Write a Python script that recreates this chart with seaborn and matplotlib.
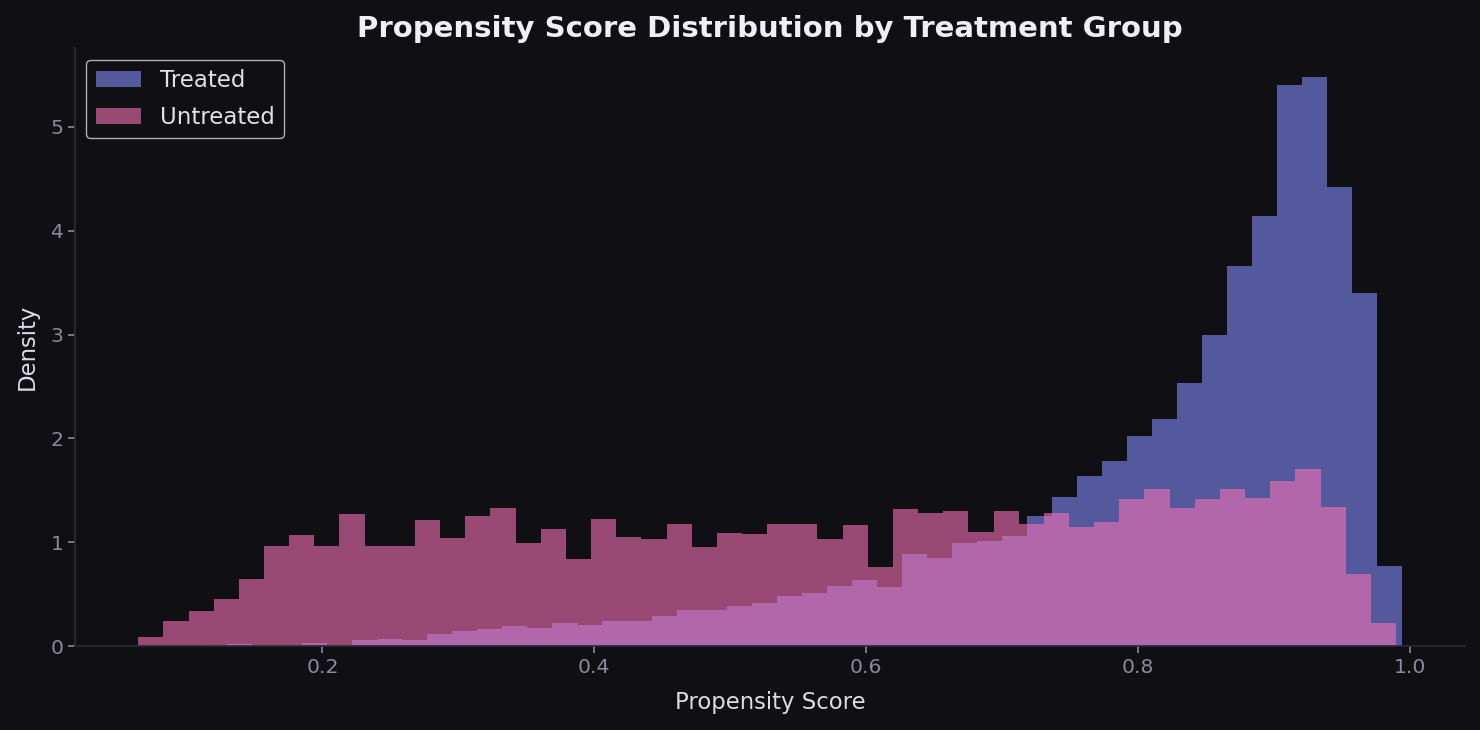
import numpy as np
import pandas as pd
import matplotlib
matplotlib.use("Agg")
import matplotlib.pyplot as plt
import seaborn as sns

# density per bin
treated_lo, treated_hi, treated_nbins = 0.1117, 0.9941, 48
treated_density = [0.008, 0.019, 0.008, 0.008, 0.030, 0.008, 0.057, 0.068, 0.057, 0.114,
                   0.144, 0.163, 0.194, 0.171, 0.225, 0.202, 0.240, 0.240, 0.288, 0.345,
                   0.345, 0.384, 0.413, 0.480, 0.509, 0.576, 0.633, 0.566, 0.883, 0.845,
                   0.988, 1.008, 1.056, 1.257, 1.432, 1.635, 1.779, 2.018, 2.185, 2.531,
                   2.993, 3.661, 4.140, 5.406, 5.483, 4.421, 3.399, 0.775]

untreated_lo, untreated_hi, untreated_nbins = 0.0646, 0.9897, 50
untreated_density = [0.091, 0.239, 0.334, 0.452, 0.645, 0.968, 1.066, 0.960, 1.275, 0.968,
                     0.968, 1.218, 1.036, 1.249, 1.332, 0.991, 1.131, 0.835, 1.228, 1.046,
                     1.027, 1.180, 0.950, 1.084, 1.075, 1.171, 1.171, 1.027, 1.161, 0.758,
                     1.315, 1.286, 1.305, 1.094, 1.305, 1.180, 1.277, 1.144, 1.192, 1.413,
                     1.509, 1.325, 1.413, 1.517, 1.421, 1.587, 1.701, 1.343, 0.690, 0.218]

BG = "#0f0f14"
sns.set_theme(style="dark", rc={
    "figure.facecolor": BG, "axes.facecolor": BG, "savefig.facecolor": BG,
    "axes.edgecolor": "#2a2a35", "axes.grid": False,
    "xtick.color": "#8b8a9a", "ytick.color": "#8b8a9a",
    "axes.labelcolor": "#dcdce4", "text.color": "#dcdce4",
    "xtick.bottom": True, "ytick.left": True,
})
plt.rcParams["font.family"] = ["DejaVu Sans"]

def bin_table(lo, hi, n, dens):
    # one row per bin centre, weighted by the bin's density
    w = (hi - lo) / n
    centres = lo + w * (np.arange(n) + 0.5)
    return pd.DataFrame({"score": centres, "density": dens})

t_df = bin_table(treated_lo, treated_hi, treated_nbins, treated_density)
u_df = bin_table(untreated_lo, untreated_hi, untreated_nbins, untreated_density)

fig, ax = plt.subplots(figsize=(14.8, 7.3), dpi=100)
fig.subplots_adjust(left=0.0507, right=0.990, bottom=0.115, top=0.934)

sns.histplot(data=t_df, x="score", weights="density", bins=treated_nbins,
             binrange=(treated_lo, treated_hi), stat="count",
             color="#818cf8", alpha=0.6, linewidth=0, label="Treated", ax=ax)
sns.histplot(data=u_df, x="score", weights="density", bins=untreated_nbins,
             binrange=(untreated_lo, untreated_hi), stat="count",
             color="#f472b6", alpha=0.6, linewidth=0, label="Untreated", ax=ax)

ax.set_title("Propensity Score Distribution by Treatment Group",
             fontsize=21, fontweight="bold", color="#f0eef8", pad=8)
ax.set_xlabel("Propensity Score", fontsize=16.4, labelpad=10)
ax.set_ylabel("Density", fontsize=16.4, labelpad=8)
ax.tick_params(labelsize=14.7, length=5, width=1.2, color="#8b8a9a")
sns.despine(ax=ax)

leg = ax.legend(loc="upper left", fontsize=16.5, facecolor=BG, edgecolor="#b0b0b4",
                framealpha=1, labelspacing=0.62)
for t in leg.get_texts():
    t.set_color("#e0e0e6")

fig.savefig("out.png", dpi=100)
